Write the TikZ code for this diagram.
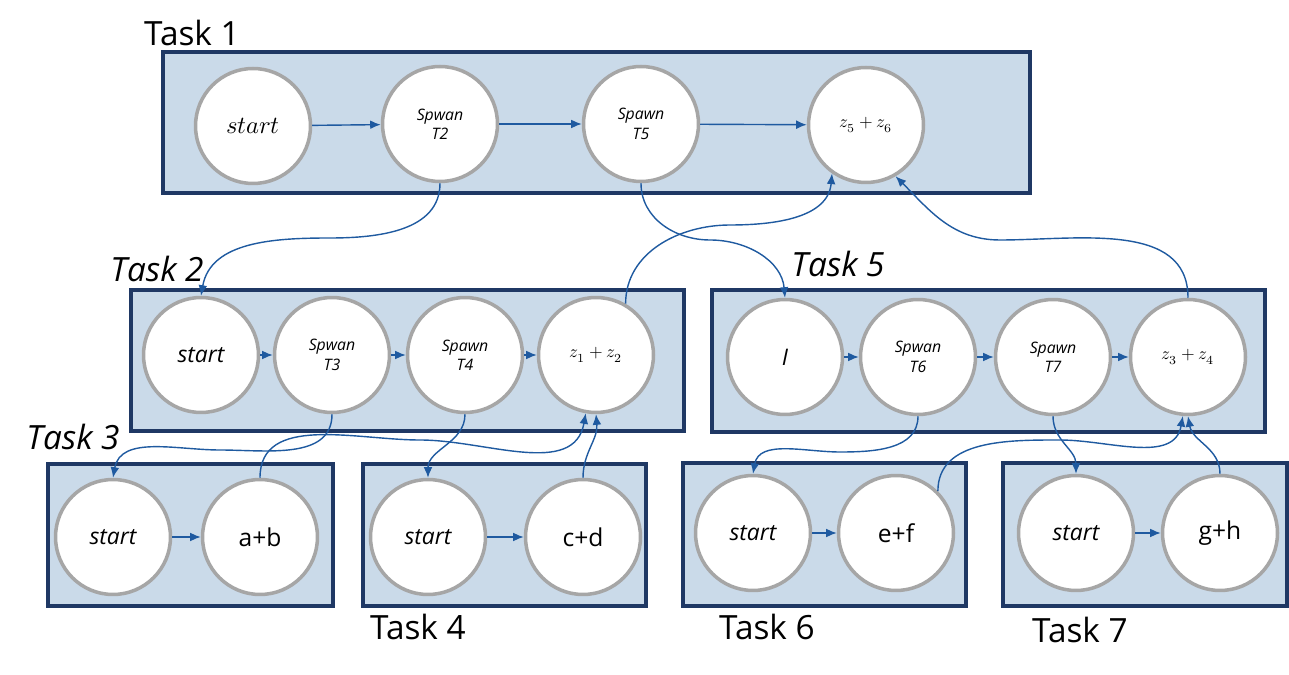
\documentclass[tikz,border=0pt]{standalone}
\usepackage{fontspec}
\setmainfont{Open Sans}
\usepackage{unicode-math}
\setmathfont{Latin Modern Math}
\usetikzlibrary{arrows.meta}
\definecolor{boxfill}{HTML}{CADAE9}
\definecolor{boxline}{HTML}{1F3864}
\definecolor{circline}{HTML}{A6A6A6}
\definecolor{arr}{HTML}{1F5AA0}
\tikzset{
 taskbox/.style={draw=boxline,fill=boxfill,line width=2.2pt},
 op/.style={circle,draw=circline,fill=white,line width=2pt,minimum size=2.3cm,inner sep=0pt,align=center,font=\fontsize{13}{15}\selectfont},
 sp/.style={op,font=\fontsize{9}{11}\selectfont\itshape},
 zz/.style={op,font=\fontsize{10}{12}\selectfont},
 st/.style={op,font=\fontsize{13}{15}\selectfont\itshape},
 sm/.style={op,font=\fontsize{14}{16}\selectfont},
 tl/.style={font=\fontsize{19}{22}\selectfont},
 tli/.style={font=\fontsize{19}{22}\selectfont\itshape},
 con/.style={draw=arr,line width=0.8pt,-{Latex[length=6pt,width=5pt]}},
}
\begin{document}
\begin{tikzpicture}[x=0.02cm,y=-0.02cm]
\useasboundingbox (0,0) rectangle (1289,675);
% boxes
\draw[taskbox] (163,52) rectangle (1030,193);
\draw[taskbox] (131,290) rectangle (684,431);
\draw[taskbox] (712,290) rectangle (1265,432);
\draw[taskbox] (48,464) rectangle (333,606);
\draw[taskbox] (363,464) rectangle (646,606);
\draw[taskbox] (683,463) rectangle (966,606);
\draw[taskbox] (1003,463) rectangle (1287,606);
% labels
\node[tl] (L1) at (192,33) {Task 1};
\node[tli] (L2) at (157,269) {Task 2};
\node[tli] (L5) at (838,264) {Task 5};
\node[tli] (L3) at (73,437) {Task 3};
\node[tl] (L4) at (418,627) {Task 4};
\node[tl] (L6) at (767,627) {Task 6};
\node[tl] (L7) at (1080,630) {Task 7};
% task1
\node[sm] (a1) at (253,126) {$start$};
\node[sp] (a2) at (440,124) {Spwan\\T2};
\node[sp] (a3) at (641,124) {Spawn\\T5};
\node[zz] (a4) at (866,125) {$z_5+z_6$};
% task2
\node[st] (b1) at (201,355) {start};
\node[sp] (b2) at (332,355) {Spwan\\T3};
\node[sp] (b3) at (465,355) {Spawn\\T4};
\node[zz] (b4) at (596,355) {$z_1+z_2$};
% task5
\node[st] (c1) at (785,357) {I};
\node[sp] (c2) at (918,357) {Spwan\\T6};
\node[sp] (c3) at (1053,357) {Spawn\\T7};
\node[zz] (c4) at (1188,357) {$z_3+z_4$};
% task3,4,6,7
\node[st] (d1) at (113,537) {start};
\node[sm] (d2) at (260,537) {a+b};
\node[st] (e1) at (428,537) {start};
\node[sm] (e2) at (583,537) {c+d};
\node[st] (f1) at (753,533) {start};
\node[sm] (f2) at (896,533) {e+f};
\node[st] (g1) at (1076,533) {start};
\node[sm] (g2) at (1220,533) {g+h};
% horizontal arrows
\foreach \u/\v in {a1/a2,a2/a3,a3/a4,b1/b2,b2/b3,b3/b4,c1/c2,c2/c3,c3/c4,d1/d2,e1/e2,f1/f2,g1/g2}
  \draw[con] (\u) -- (\v);
% spawn / join curves
\draw[con] (a2.south) to[out=-90,in=0] (330,238) to[out=180,in=80] (b1.north);
\draw[con] (a3.south) to[out=-90,in=180] (710,240) to[out=0,in=95] (c1.north);
\draw[con] (b4.60) to[out=90,in=180] (730,225) to[out=0,in=-95] (a4.235);
\draw[con] (c4.north) to[out=90,in=0] (1000,240) to[out=180,in=-45] (a4.300);
\draw[con] (b2.south) to[out=-90,in=0] (220,450) to[out=180,in=80] (d1.north);
\draw[con] (d2.north) to[out=90,in=180] (420,440) to[out=0,in=-100] (b4.260);
\draw[con] (b3.south) to[out=-90,in=90] (e1.north);
\draw[con] (e2.north) to[out=90,in=-85] (b4.south);
\draw[con] (c2.south) to[out=-90,in=0] (840,452) to[out=180,in=80] (f1.north);
\draw[con] (f2.45) to[out=90,in=180] (1060,440) to[out=0,in=-100] (c4.265);
\draw[con] (c3.south) to[out=-90,in=90] (g1.north);
\draw[con] (g2.north) to[out=90,in=-80] (c4.south);
\end{tikzpicture}
\end{document}
